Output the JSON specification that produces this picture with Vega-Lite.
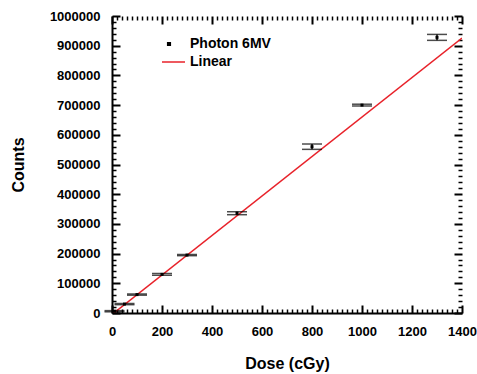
{
  "$schema": "https://vega.github.io/schema/vega-lite/v6.json",
  "width": 350,
  "height": 297,
  "autosize": "none",
  "padding": {"left": 112, "top": 16, "right": 15, "bottom": 61},
  "config": {
    "view": {"stroke": null},
    "font": "Liberation Sans",
    "axis": {
      "domainColor": "black",
      "domainWidth": 2,
      "tickColor": "black",
      "labelColor": "black",
      "titleColor": "black",
      "labelFont": "Liberation Sans",
      "labelFontWeight": "bold",
      "labelFontSize": 13,
      "titleFont": "Liberation Sans",
      "titleFontWeight": "bold",
      "titleFontSize": 16,
      "grid": false
    },
    "legend": {
      "labelFont": "Liberation Sans",
      "labelFontWeight": "bold",
      "labelFontSize": 14,
      "labelColor": "black"
    }
  },
  "datasets": {
    "pts": [
      {"dose": 10, "counts": 6000, "lo": 4000, "hi": 8000, "series": "Photon 6MV"},
      {"dose": 50, "counts": 30000, "lo": 28000, "hi": 32000, "series": "Photon 6MV"},
      {"dose": 100, "counts": 62000, "lo": 60000, "hi": 64000, "series": "Photon 6MV"},
      {"dose": 200, "counts": 130000, "lo": 127000, "hi": 133000, "series": "Photon 6MV"},
      {"dose": 300, "counts": 195000, "lo": 193000, "hi": 197000, "series": "Photon 6MV"},
      {"dose": 500, "counts": 336000, "lo": 331000, "hi": 341000, "series": "Photon 6MV"},
      {"dose": 800, "counts": 560000, "lo": 551000, "hi": 569000, "series": "Photon 6MV"},
      {"dose": 1000, "counts": 700000, "lo": 697000, "hi": 703000, "series": "Photon 6MV"},
      {"dose": 1300, "counts": 928000, "lo": 918000, "hi": 938000, "series": "Photon 6MV"}
    ],
    "fit": [
      {"dose": 0, "counts": -5000, "series": "Linear"},
      {"dose": 1400, "counts": 926000, "series": "Linear"}
    ]
  },
  "resolve": {"axis": {"x": "independent", "y": "independent"}},
  "layer": [
    {
      "data": {"name": "fit"},
      "mark": {"type": "line", "strokeWidth": 1.5, "clip": true},
      "encoding": {
        "x": {"field": "dose", "type": "quantitative",
          "scale": {"domain": [0, 1400], "nice": false, "zero": false},
          "axis": {"orient": "bottom", "values": [0, 200, 400, 600, 800, 1000, 1200, 1400], "format": "d", "ticks": false, "labelPadding": 12, "title": "Dose (cGy)", "titlePadding": 17, "labelFlush": false}},
        "y": {"field": "counts", "type": "quantitative",
          "scale": {"domain": [0, 1000000], "nice": false, "zero": false},
          "axis": {"orient": "left", "values": [0, 100000, 200000, 300000, 400000, 500000, 600000, 700000, 800000, 900000, 1000000], "format": "d", "ticks": false, "labelPadding": 12, "title": "Counts", "titlePadding": 23, "labelFlush": false}},
        "color": {"field": "series", "type": "nominal",
          "scale": {"domain": ["Photon 6MV", "Linear"], "range": ["black", "#e8222a"]},
          "legend": {
            "title": null, "orient": "none", "legendX": 50, "legendY": 19,
            "padding": 0, "rowPadding": 0, "columns": 1, "clipHeight": 18, "labelOffset": 14, "symbolSize": 1024,
            "symbolType": "stroke", "symbolStrokeWidth": 1.5,
            "encode": {
              "symbols": {"update": {
                "shape": {"signal": "datum.value === 'Linear' ? 'stroke' : 'square'"},
                "size": {"signal": "datum.value === 'Linear' ? 1024 : 7"},
                "fill": {"signal": "datum.value === 'Linear' ? 'transparent' : 'black'"},
                "stroke": {"signal": "datum.value === 'Linear' ? '#e8222a' : 'transparent'"}
              }}
            }
          }}
      }
    },
    {
      "data": {"name": "pts"},
      "mark": {"type": "rule", "color": "black", "strokeWidth": 1.5},
      "encoding": {
        "x": {"field": "dose", "type": "quantitative",
          "axis": {"orient": "bottom", "offset": -8, "values": [0, 200, 400, 600, 800, 1000, 1200, 1400], "tickSize": 8, "tickWidth": 2, "labels": false, "title": null, "domain": false}},
        "y": {"field": "lo", "type": "quantitative",
          "axis": {"orient": "left", "offset": -8, "values": [0, 100000, 200000, 300000, 400000, 500000, 600000, 700000, 800000, 900000, 1000000], "tickSize": 8, "tickWidth": 2, "labels": false, "title": null, "domain": false}},
        "y2": {"field": "hi"}
      }
    },
    {
      "data": {"name": "pts"},
      "mark": {"type": "point", "shape": "square", "filled": true, "size": 9, "opacity": 1},
      "encoding": {
        "x": {"field": "dose", "type": "quantitative",
          "axis": {"orient": "bottom", "offset": -4, "values": [20,40,60,80,100,120,140,160,180,220,240,260,280,300,320,340,360,380,420,440,460,480,500,520,540,560,580,620,640,660,680,700,720,740,760,780,820,840,860,880,900,920,940,960,980,1020,1040,1060,1080,1100,1120,1140,1160,1180,1220,1240,1260,1280,1300,1320,1340,1360,1380], "tickSize": 4, "tickWidth": 1.5, "labels": false, "title": null, "domain": false}},
        "y": {"field": "counts", "type": "quantitative",
          "axis": {"orient": "left", "offset": -4, "values": [20000,40000,60000,80000,120000,140000,160000,180000,220000,240000,260000,280000,320000,340000,360000,380000,420000,440000,460000,480000,520000,540000,560000,580000,620000,640000,660000,680000,720000,740000,760000,780000,820000,840000,860000,880000,920000,940000,960000,980000], "tickSize": 4, "tickWidth": 1.5, "labels": false, "title": null, "domain": false}},
        "color": {"field": "series", "type": "nominal"}
      }
    },
    {
      "data": {"name": "pts"},
      "mark": {"type": "tick", "orient": "horizontal", "color": "black", "size": 20, "thickness": 1.5},
      "encoding": {
        "x": {"field": "dose", "type": "quantitative",
          "axis": {"orient": "top", "offset": -8, "values": [0, 200, 400, 600, 800, 1000, 1200, 1400], "tickSize": 8, "tickWidth": 2, "labels": false, "title": null, "domain": false}},
        "y": {"field": "lo", "type": "quantitative",
          "axis": {"orient": "right", "offset": -8, "values": [0, 100000, 200000, 300000, 400000, 500000, 600000, 700000, 800000, 900000, 1000000], "tickSize": 8, "tickWidth": 2, "labels": false, "title": null, "domain": false}}
      }
    },
    {
      "data": {"name": "pts"},
      "mark": {"type": "tick", "orient": "horizontal", "color": "black", "size": 20, "thickness": 1.5},
      "encoding": {
        "x": {"field": "dose", "type": "quantitative",
          "axis": {"orient": "top", "offset": -4, "values": [20,40,60,80,100,120,140,160,180,220,240,260,280,300,320,340,360,380,420,440,460,480,500,520,540,560,580,620,640,660,680,700,720,740,760,780,820,840,860,880,900,920,940,960,980,1020,1040,1060,1080,1100,1120,1140,1160,1180,1220,1240,1260,1280,1300,1320,1340,1360,1380], "tickSize": 4, "tickWidth": 1.5, "labels": false, "title": null, "domain": false}},
        "y": {"field": "hi", "type": "quantitative",
          "axis": {"orient": "right", "offset": -4, "values": [20000,40000,60000,80000,120000,140000,160000,180000,220000,240000,260000,280000,320000,340000,360000,380000,420000,440000,460000,480000,520000,540000,560000,580000,620000,640000,660000,680000,720000,740000,760000,780000,820000,840000,860000,880000,920000,940000,960000,980000], "tickSize": 4, "tickWidth": 1.5, "labels": false, "title": null, "domain": false}}
      }
    }
  ]
}
